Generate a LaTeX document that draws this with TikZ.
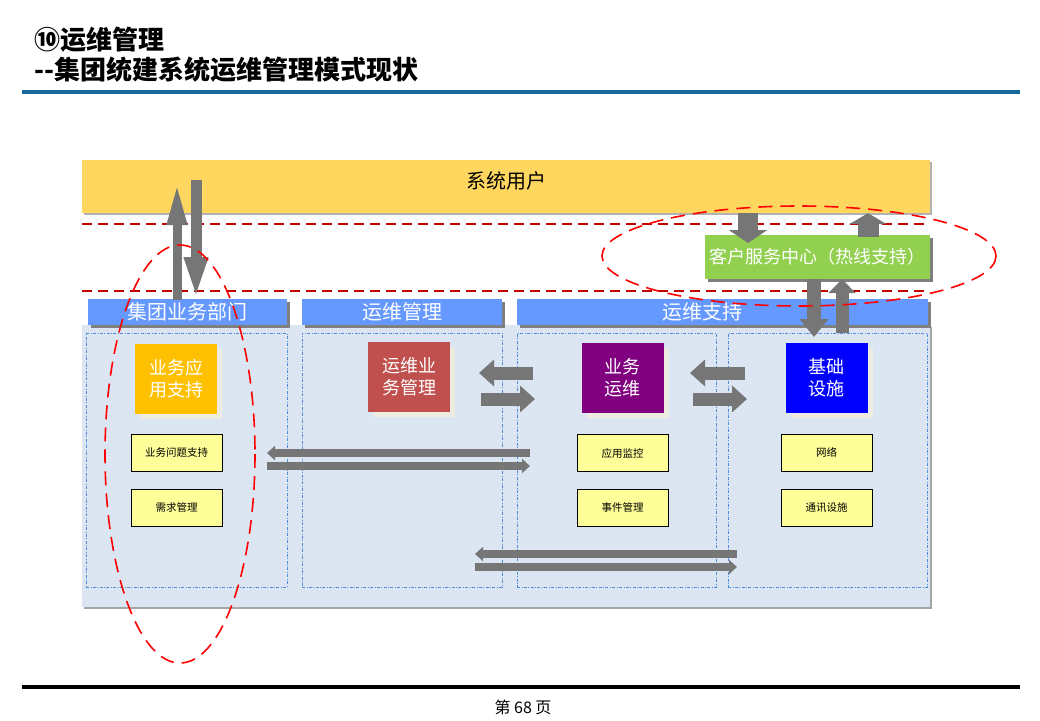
\documentclass[tikz,border=0pt]{standalone}
\usepackage{fontspec}
\setmainfont{Noto Sans CJK SC}
\usepackage{tikz}
\usetikzlibrary{arrows.meta,shadows}

\definecolor{rulebar}{RGB}{24,104,156}
\definecolor{userbar}{RGB}{255,215,95}
\definecolor{hdblue}{RGB}{102,153,255}
\definecolor{panelblue}{RGB}{220,230,242}
\definecolor{zoneblue}{RGB}{80,140,220}
\definecolor{shadegray}{RGB}{127,127,127}
\definecolor{cream}{RGB}{238,236,225}
\definecolor{itemyellow}{RGB}{255,255,153}
\definecolor{arrgray}{RGB}{118,118,118}
\definecolor{darkred}{RGB}{192,0,0}
\definecolor{kfgreen}{RGB}{146,208,80}
\definecolor{sqorange}{RGB}{255,192,0}
\definecolor{sqred}{RGB}{192,80,77}
\definecolor{sqpurple}{RGB}{128,0,128}
\definecolor{sqblue}{RGB}{0,0,255}

\begin{document}
\begin{tikzpicture}[x=1pt,y=-1pt,
  bar/.style={fill=hdblue,text=white,font=\fontsize{20}{24}\selectfont,minimum height=26pt,inner sep=0pt,
    drop shadow={shadow xshift=3pt,shadow yshift=-3pt,fill=shadegray,opacity=1}},
  zone/.style={draw=zoneblue,line width=0.6pt,dash pattern=on 3pt off 1.5pt on 0.8pt off 1.5pt,
    minimum height=254pt,inner sep=0pt},
  sq/.style={text=white,align=center,font=\fontsize{18}{22}\selectfont,minimum width=82pt,minimum height=70pt,inner sep=0pt,
    drop shadow={shadow xshift=5pt,shadow yshift=-5pt,fill=cream,opacity=1}},
  item/.style={draw=black,line width=0.8pt,fill=itemyellow,font=\fontsize{10.5}{12}\selectfont,
    minimum width=91pt,minimum height=37pt,inner sep=0pt},
  midarr/.style={draw=arrgray,line width=13pt,-{Triangle[width=26pt,length=15pt]}},
  longarr/.style={draw=arrgray,line width=8pt,-{Triangle[width=14pt,length=8pt]}},
  redline/.style={draw=darkred,line width=1.6pt,dash pattern=on 10pt off 6pt},
  redring/.style={draw=red,line width=1.6pt,dash pattern=on 14pt off 8pt}]

  \fill[white] (0,0) rectangle (1040,720);
  \useasboundingbox (0,0) rectangle (1040,720);

  % heading
  \node[anchor=west,font=\fontsize{26}{30}\selectfont\bfseries,inner sep=0pt] (title1) at (34,40) {⑩运维管理};
  \node[anchor=west,font=\fontsize{26}{30}\selectfont\bfseries,inner sep=0pt] (title2) at (34,70) {{-}{-}集团统建系统运维管理模式现状};
  \draw[rulebar,line width=4pt] (22,92) -- (1020,92);

  % users
  \node[fill=userbar,minimum width=848pt,minimum height=53pt,inner sep=0pt,
    drop shadow={shadow xshift=2pt,shadow yshift=-2pt,fill=shadegray!60,opacity=1},
    label={[anchor=north,yshift=-8pt,font=\fontsize{20}{24}\selectfont]north:系统用户}] (yonghu) at (506,186.5) {};

  \draw[redline] (82,224) -- (930,224);
  \draw[redline] (82,291) -- (930,291);

  % main panel and zones
  \node[fill=panelblue,minimum width=848pt,minimum height=282pt,inner sep=0pt,
    drop shadow={shadow xshift=2pt,shadow yshift=-2pt,fill=shadegray!70,opacity=1}] (panel) at (506,466) {};
  \node[zone,minimum width=201pt] (zone1) at (186.5,460) {};
  \node[zone,minimum width=200pt] (zone2) at (402,460) {};
  \node[zone,minimum width=199pt] (zone3) at (616.5,460) {};
  \node[zone,minimum width=199pt] (zone4) at (827.5,460) {};

  \node[bar,minimum width=199pt] (hd1) at (187.5,312) {集团业务部门};
  \node[bar,minimum width=200pt] (hd2) at (402,312) {运维管理};
  \node[bar,minimum width=411pt,label={[text=white,font=\fontsize{20}{24}\selectfont,xshift=-20pt]center:运维支持}] (hd3) at (722.5,312) {};

  % colored blocks
  \node[sq,fill=sqorange] (yyzc) at (176,379) {业务应\\用支持};
  \node[sq,fill=sqred] (ywgl) at (409,377) {运维业\\务管理};
  \node[sq,fill=sqpurple] (ywyw) at (622.5,378) {业务\\运维};
  \node[sq,fill=sqblue] (jcss) at (826.5,378) {基础\\设施};

  \node[item] (wtzc) at (176.5,452.5) {业务问题支持};
  \node[item] (xqgl) at (176.5,507.5) {需求管理};
  \node[item] (yyjk) at (622.5,453) {应用监控};
  \node[item] (sjgl) at (622.5,507.5) {事件管理};
  \node[item] (wl) at (826.5,452.5) {网络};
  \node[item] (txss) at (826.5,507.5) {通讯设施};

  \node[fill=kfgreen,text=white,font=\fontsize{18}{22}\selectfont,minimum width=225pt,minimum height=44pt,inner sep=0pt,
    drop shadow={shadow xshift=3pt,shadow yshift=-3pt,fill=shadegray,opacity=1}] (kefu) at (817.5,257) {客户服务中心（热线支持）};

  % arrow ends
  \coordinate (up1a) at (177,300);  \coordinate (up1b) at (177,182);
  \coordinate (dn1a) at (196,180);  \coordinate (dn1b) at (196,300);
  \coordinate (l1a) at (533,373);   \coordinate (l1b) at (479,373);
  \coordinate (r1a) at (481,399);   \coordinate (r1b) at (535,399);
  \coordinate (l2a) at (745,373);   \coordinate (l2b) at (690,373);
  \coordinate (r2a) at (693,399);   \coordinate (r2b) at (747,399);
  \coordinate (l3a) at (530,453);   \coordinate (l3b) at (267,453);
  \coordinate (r3a) at (267,466);   \coordinate (r3b) at (530,466);
  \coordinate (l4a) at (737,554);   \coordinate (l4b) at (475,554);
  \coordinate (r4a) at (475,567);   \coordinate (r4b) at (737,567);
  \coordinate (dn2b) at (748,243);  \coordinate (up2a) at (868,237);
  \coordinate (dn3b) at (814,337);  \coordinate (up3a) at (842,333);

  \draw[draw=arrgray,line width=9pt,-{Triangle[width=18pt,length=43pt]}] (up1a) -- (up1b);
  \draw[draw=arrgray,line width=11pt,-{Triangle[width=21pt,length=43pt]}] (dn1a) -- (dn1b);
  \draw[midarr] (l1a) -- (l1b);
  \draw[midarr] (r1a) -- (r1b);
  \draw[midarr] (l2a) -- (l2b);
  \draw[midarr] (r2a) -- (r2b);
  \draw[longarr] (l3a) -- (l3b);
  \draw[longarr] (r3a) -- (r3b);
  \draw[longarr] (l4a) -- (l4b);
  \draw[longarr] (r4a) -- (r4b);
  \draw[draw=arrgray,line width=20pt,-{Triangle[width=38pt,length=13pt]}] (yonghu.south -| dn2b) -- (dn2b);
  \draw[draw=arrgray,line width=21pt,-{Triangle[width=37pt,length=11pt]}] (up2a) -- (yonghu.south -| up2a);
  \draw[draw=arrgray,line width=14pt,-{Triangle[width=28pt,length=18pt]}] (kefu.south -| dn3b) -- (dn3b);
  \draw[draw=arrgray,line width=13pt,-{Triangle[width=27pt,length=14pt]}] (up3a) -- (kefu.south -| up3a);

  % red rings
  \draw[redring] (180,454) ellipse [x radius=75, y radius=209];
  \draw[redring] (799,256) ellipse [x radius=197, y radius=50];

  % footer
  \draw[black,line width=4pt] (22,687) -- (1020,687);
  \node[font=\fontsize{16}{18}\selectfont] (page) at (523,707) {第 68 页};
\end{tikzpicture}
\end{document}
